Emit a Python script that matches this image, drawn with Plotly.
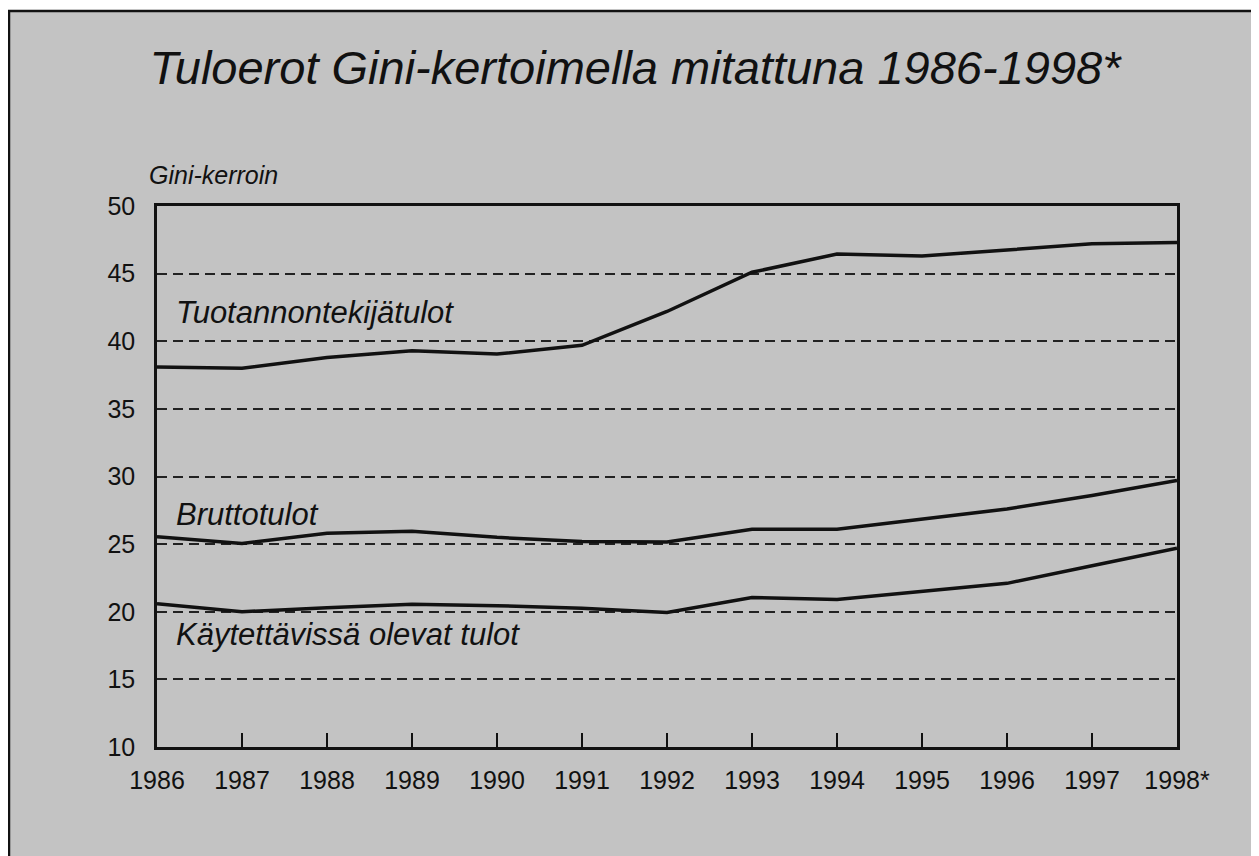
import plotly.graph_objects as go

years = [1986, 1987, 1988, 1989, 1990, 1991, 1992, 1993, 1994, 1995, 1996, 1997, 1998]
year_labels = ["1986", "1987", "1988", "1989", "1990", "1991", "1992",
               "1993", "1994", "1995", "1996", "1997", "1998*"]

tuotannontekijatulot = [38.1, 38.0, 38.8, 39.3, 39.05, 39.7, 42.2, 45.1, 46.45, 46.3, 46.75, 47.2, 47.3]
bruttotulot = [25.55, 25.05, 25.8, 25.95, 25.5, 25.2, 25.15, 26.1, 26.1, 26.85, 27.6, 28.6, 29.7]
kaytettavissa = [20.6, 20.0, 20.3, 20.55, 20.45, 20.25, 19.95, 21.05, 20.9, 21.5, 22.1, 23.4, 24.7]

series_names = ["Tuotannontekijätulot", "Bruttotulot", "Käytettävissä olevat tulot"]
label_y = [42.1, 27.2, 18.35]

y_ticks = [10, 15, 20, 25, 30, 35, 40, 45, 50]

FONT = "Liberation Sans, Arial, Helvetica, sans-serif"

fig = go.Figure()
for vals, name in zip([tuotannontekijatulot, bruttotulot, kaytettavissa], series_names):
    fig.add_trace(go.Scatter(
        x=years, y=vals, mode="lines", name=name,
        line=dict(color="#111111", width=3.5),
        showlegend=False, hoverinfo="x+y",
    ))

for name, ly in zip(series_names, label_y):
    fig.add_annotation(
        x=1986.2, y=ly, xref="x", yref="y", text=name, showarrow=False,
        xanchor="left", yanchor="middle",
        font=dict(family=FONT, size=31, color="#111111", style="italic"),
    )

fig.add_annotation(
    x=-0.0098, y=1.0573, xref="paper", yref="paper", text="Gini-kerroin",
    showarrow=False, xanchor="left", yanchor="middle",
    font=dict(family=FONT, size=25, color="#111111", style="italic"),
)

# gray framed background panel
fig.add_shape(
    type="rect", xref="paper", yref="paper",
    x0=-0.1451, x1=1.2, y0=-0.4, y1=1.3604,
    fillcolor="#c3c3c3", line=dict(color="#111111", width=2.5), layer="below",
)

fig.update_layout(
    width=1251, height=848,
    margin=dict(l=149, r=82, t=198, b=109),
    paper_bgcolor="white",
    plot_bgcolor="white",
    font=dict(family=FONT, color="#111111"),
    title=dict(
        text="Tuloerot Gini-kertoimella mitattuna 1986-1998*",
        x=0.5012, xanchor="center", y=0.9292, yanchor="middle",
        font=dict(family=FONT, size=47, color="#111111", style="italic"),
    ),
)

fig.update_xaxes(
    range=[1986, 1998],
    tickmode="array", tickvals=years, ticktext=year_labels,
    ticks="inside", ticklen=14, tickwidth=1.5, tickcolor="#111111",
    showgrid=False, zeroline=False,
    showline=True, linecolor="#111111", linewidth=2.5, mirror=True,
    tickfont=dict(family=FONT, size=25, color="#111111"),
    ticklabelstandoff=9,
)
fig.update_yaxes(
    range=[10, 50],
    tickmode="array", tickvals=y_ticks,
    ticks="", showgrid=True, gridcolor="#222222", gridwidth=1.5,
    griddash="10px,6px", zeroline=False,
    showline=True, linecolor="#111111", linewidth=2.5, mirror=True,
    tickfont=dict(family=FONT, size=25, color="#111111"),
    ticklabelstandoff=14,
)

fig.write_html("out.html")
